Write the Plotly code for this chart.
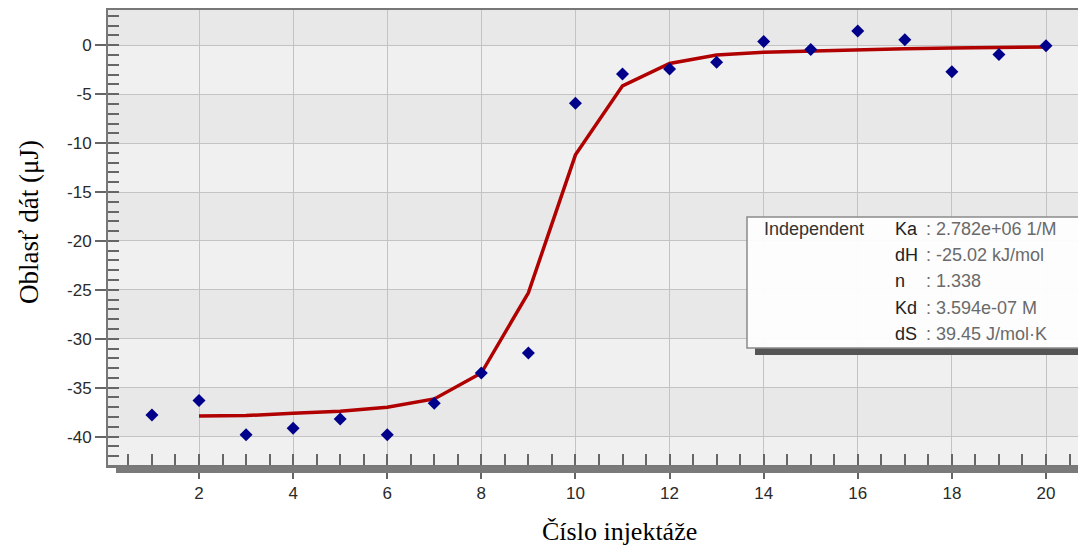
import plotly.graph_objects as go

# ---- data ----
injection = list(range(1, 21))
area_uJ = [-37.8, -36.3, -39.8, -39.15, -38.2, -39.8, -36.6, -33.5, -31.45, -5.92,
           -2.93, -2.42, -1.74, 0.38, -0.44, 1.46, 0.56, -2.7, -0.95, -0.05]
fit_x = list(range(2, 21))
fit_y = [-37.9, -37.85, -37.6, -37.4, -37.0, -36.15, -33.5, -25.3, -11.2, -4.15,
         -1.87, -1.0, -0.72, -0.58, -0.46, -0.36, -0.28, -0.23, -0.19]

x_tick_vals = [2, 4, 6, 8, 10, 12, 14, 16, 18, 20]
y_tick_vals = [-40, -35, -30, -25, -20, -15, -10, -5, 0]
y_tick_text = [str(v) for v in y_tick_vals]

legend_title = "Independent"
param_names = ["Ka", "dH", "n", "Kd", "dS"]
param_values = [": 2.782e+06 1/M", ": -25.02 kJ/mol", ": 1.338", ": 3.594e-07 M", ": 39.45 J/mol·K"]

x_title = "Číslo injektáže"
y_title = "Oblasť dát (μJ)"

# ---- layout geometry (pixels, page coords; page body has an 8px margin) ----
OFF = 8
W, H = 1086 - OFF, 552 - OFF
PLOT_L, PLOT_R, PLOT_T, PLOT_B = 108, 1086, 10, 465   # page coords of plot area
L = PLOT_L - OFF
R = (OFF + W) - PLOT_R
T = PLOT_T - OFF
B = (OFF + H) - PLOT_B
PW, PH = PLOT_R - PLOT_L, PLOT_B - PLOT_T


def px(x):
    return (x - PLOT_L) / PW


def py(y):
    return (PLOT_B - y) / PH


SANS = "Arial, Liberation Sans, sans-serif"
SERIF = "Times New Roman, Liberation Serif, serif"

fig = go.Figure()

fig.add_trace(go.Scatter(
    x=fit_x, y=fit_y, mode="lines",
    line=dict(color="#b00000", width=3.5),
    showlegend=False, hoverinfo="skip"))

fig.add_trace(go.Scatter(
    x=injection, y=area_uJ, mode="markers",
    marker=dict(symbol="diamond", size=10, color="#00008b"),
    showlegend=False))

shapes = []
# alternating background bands (darker ones)
band_edges = y_tick_vals + [5]
for i in range(len(band_edges) - 1):
    lo, hi = band_edges[i], band_edges[i + 1]
    if i % 2 == 0:
        shapes.append(dict(type="rect", xref="paper", yref="y", x0=0, x1=1, y0=lo, y1=hi,
                           fillcolor="#e8e8e8", line=dict(width=0), layer="below"))

# x-axis shadow bar
shapes.append(dict(type="rect", xref="paper", yref="paper",
                   x0=px(116), x1=1.02, y0=py(473), y1=py(466.5),
                   fillcolor="#7a7a7a", line=dict(width=0), layer="above"))

# legend box shadow and box
shapes.append(dict(type="rect", xref="paper", yref="paper",
                   x0=px(755), x1=1.02, y0=py(355), y1=py(348),
                   fillcolor="#555555", line=dict(width=0), layer="above"))
shapes.append(dict(type="rect", xref="paper", yref="paper",
                   x0=px(747), x1=1.02, y0=py(348), y1=py(217),
                   fillcolor="rgba(253,253,253,0.97)", line=dict(color="#8a8a8a", width=1.5),
                   layer="above"))

annotations = []
row_y = [229, 255, 281, 308, 334]
annotations.append(dict(text=legend_title, xref="paper", yref="paper", x=px(762), y=py(row_y[0]),
                        xanchor="left", yanchor="middle", showarrow=False,
                        font=dict(family=SANS, size=18, color="#333333")))
for name, val, ry in zip(param_names, param_values, row_y):
    annotations.append(dict(text=name, xref="paper", yref="paper", x=px(893), y=py(ry),
                            xanchor="left", yanchor="middle", showarrow=False,
                            font=dict(family=SANS, size=18, color="#222222")))
    annotations.append(dict(text=val, xref="paper", yref="paper", x=px(924), y=py(ry),
                            xanchor="left", yanchor="middle", showarrow=False,
                            font=dict(family=SANS, size=18, color="#6a6a6a")))

annotations.append(dict(text=x_title, xref="paper", yref="paper", x=px(619), y=py(531),
                        xanchor="center", yanchor="middle", showarrow=False,
                        font=dict(family=SERIF, size=26, color="#000000")))
annotations.append(dict(text=y_title, xref="paper", yref="paper", x=px(29), y=py(222),
                        xanchor="center", yanchor="middle", showarrow=False, textangle=-90,
                        font=dict(family=SERIF, size=27, color="#000000")))

fig.update_layout(
    width=W, height=H,
    margin=dict(l=L, r=R, t=T, b=B, pad=0),
    paper_bgcolor="white",
    plot_bgcolor="#f0f0f0",
    shapes=shapes,
    annotations=annotations,
    showlegend=False,
)

fig.update_xaxes(
    range=[0.066, 20.85],
    tickmode="array", tickvals=x_tick_vals,
    ticks="outside", ticklen=11, tickwidth=1.5, tickcolor="#666666",
    tickfont=dict(family=SANS, size=17, color="#2a2a2a"),
    showgrid=True, gridcolor="#c3c3c3", gridwidth=1,
    showline=True, linecolor="#777777", linewidth=2.5, mirror=True,
    zeroline=False,
    minor=dict(dtick=0.5, tick0=0, ticks="inside", ticklen=11, tickwidth=1.5,
               tickcolor="#666666", showgrid=False),
)
fig.update_yaxes(
    range=[-42.9, 3.6],
    tickmode="array", tickvals=y_tick_vals, ticktext=y_tick_text,
    ticks="outside", ticklen=11, tickwidth=1.5, tickcolor="#666666",
    tickfont=dict(family=SANS, size=17, color="#2a2a2a"),
    showgrid=True, gridcolor="#c3c3c3", gridwidth=1,
    showline=True, linecolor="#777777", linewidth=2,
    zeroline=False,
    minor=dict(dtick=1, tick0=0, ticks="inside", ticklen=11, tickwidth=1.5,
               tickcolor="#666666", showgrid=False),
)

fig.write_html("out.html")
